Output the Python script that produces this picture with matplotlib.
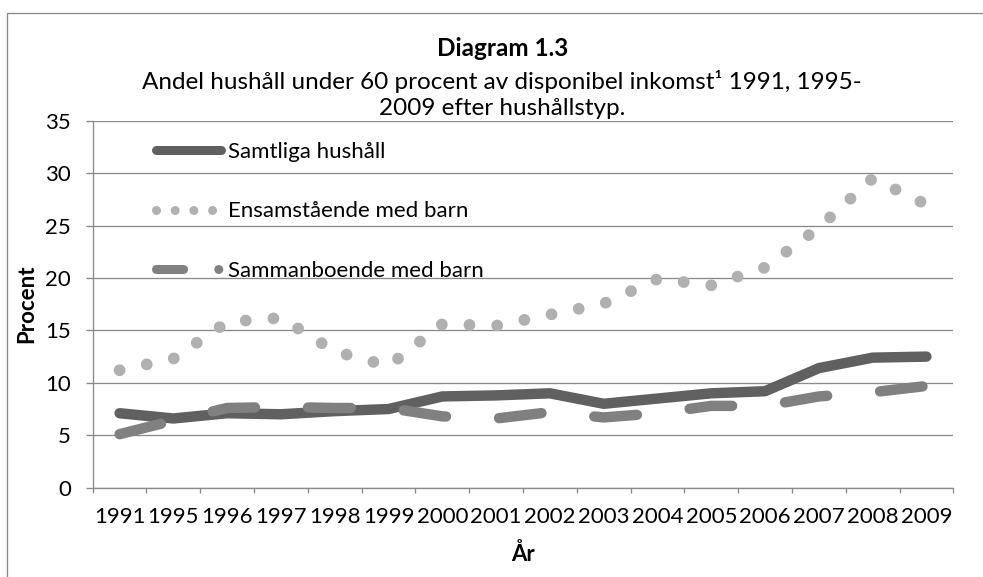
import matplotlib
matplotlib.use("Agg")
import matplotlib.pyplot as plt
import numpy as np
from matplotlib.patches import Rectangle
from matplotlib.lines import Line2D

# data
years = ["1991", "1995", "1996", "1997", "1998", "1999", "2000", "2001",
         "2002", "2003", "2004", "2005", "2006", "2007", "2008", "2009"]
samtliga = [7.1, 6.6, 7.1, 7.0, 7.3, 7.5, 8.7, 8.8, 9.0, 8.0, 8.5, 9.0, 9.2, 11.4, 12.4, 12.5]
ensamstaende = [11.2, 12.3, 15.8, 16.2, 13.0, 11.6, 15.6, 15.45, 16.5, 17.55, 19.9, 19.3, 21.0, 24.8, 29.5, 27.0]
sammanboende = [5.1, 6.4, 7.6, 7.7, 7.6, 7.6, 6.8, 6.6, 7.2, 6.7, 7.1, 7.8, 7.8, 8.7, 9.1, 9.7]
labels = ['Samtliga hushåll', 'Ensamstående med barn', 'Sammanboende med barn']

plt.rcParams['font.family'] = ['Lato', 'DejaVu Sans']
FS = 16
FS_TITLE = 17.5
GRID = '#8a8a8a'
C_SAMT, C_ENS, C_SAMM = '#606060', '#b0b0b0', '#808080'

fig = plt.figure(figsize=(9.83, 5.77), dpi=100)
ax = fig.add_axes([0.0943, 0.1548, 0.8755, 0.6361])

x = np.arange(len(years))
lw = 7.5
ax.plot(x, samtliga, color=C_SAMT, lw=lw, solid_capstyle='round',
        solid_joinstyle='round', zorder=3)
ax.plot(x, ensamstaende, color=C_ENS, lw=8.5, linestyle=(0, (0.001, 2.35)),
        dash_capstyle='round', zorder=3)
ax.plot(x, sammanboende, color=C_SAMM, lw=lw, linestyle=(0, (4.1, 5.1)),
        dash_capstyle='round', dash_joinstyle='round', zorder=3)

# axes and grid
ax.set_xlim(-0.5, len(years) - 0.5)
ax.set_ylim(0, 35)
ax.set_yticks(np.arange(0, 36, 5))
ax.yaxis.grid(True, color=GRID, lw=0.95)
ax.set_axisbelow(True)
ax.set_xticks(np.arange(-0.5, len(years), 1))
ax.set_xticklabels([])
ax.set_xticks(x, minor=True)
ax.set_xticklabels(years, minor=True)
ax.tick_params(axis='x', which='major', length=3.6, width=0.95, color=GRID)
ax.tick_params(axis='x', which='minor', length=0, pad=14, labelsize=FS)
ax.tick_params(axis='y', length=4.8, width=0.95, color=GRID, pad=11, labelsize=FS)
for s in ['top', 'right']:
    ax.spines[s].set_visible(False)
for s in ['left', 'bottom']:
    ax.spines[s].set_color(GRID)
    ax.spines[s].set_linewidth(0.95)

ax.set_ylabel('Procent', fontsize=FS, fontweight='bold')
ax.yaxis.set_label_coords(-0.0647, 0.5)
ax.set_xlabel('År', fontsize=FS, fontweight='bold')
ax.xaxis.set_label_coords(0.5, -0.15)

# legend samples drawn like the Excel legend (shorter dot spacing)
handles = [
    Line2D([], [], color=C_SAMT, lw=6.5, solid_capstyle='round'),
    Line2D([], [], color=C_ENS, lw=6.5, linestyle=(0, (0.001, 2.07)), dash_capstyle='round'),
    Line2D([], [], color=C_SAMM, lw=6.5, linestyle=(0, (3.0, 3.9, 0.001, 10)),
           dash_capstyle='round'),
]
ax.legend(handles, labels, loc='upper left', bbox_to_anchor=(0.0735, 0.943),
          frameon=False, fontsize=FS, handlelength=2.93, handletextpad=0.32,
          labelspacing=1.79, borderpad=0, borderaxespad=0)

# titles
fig.text(0.511, 0.9168, 'Diagram 1.3', fontsize=FS_TITLE, fontweight='bold',
         ha='center', va='center')
fig.text(0.511, 0.858, 'Andel hushåll under 60 procent av disponibel inkomst¹ 1991, 1995-',
         fontsize=FS_TITLE, ha='center', va='center')
fig.text(0.511, 0.8128, '2009 efter hushållstyp.', fontsize=FS_TITLE, ha='center', va='center')

# outer chart frame (cut off at right and bottom like the reference)
fig.add_artist(Rectangle((7.3 / 983, -0.05), 1.1, 0.978 + 0.05, transform=fig.transFigure,
                         fill=False, edgecolor=GRID, lw=0.95))

fig.savefig('out.png', dpi=100)
